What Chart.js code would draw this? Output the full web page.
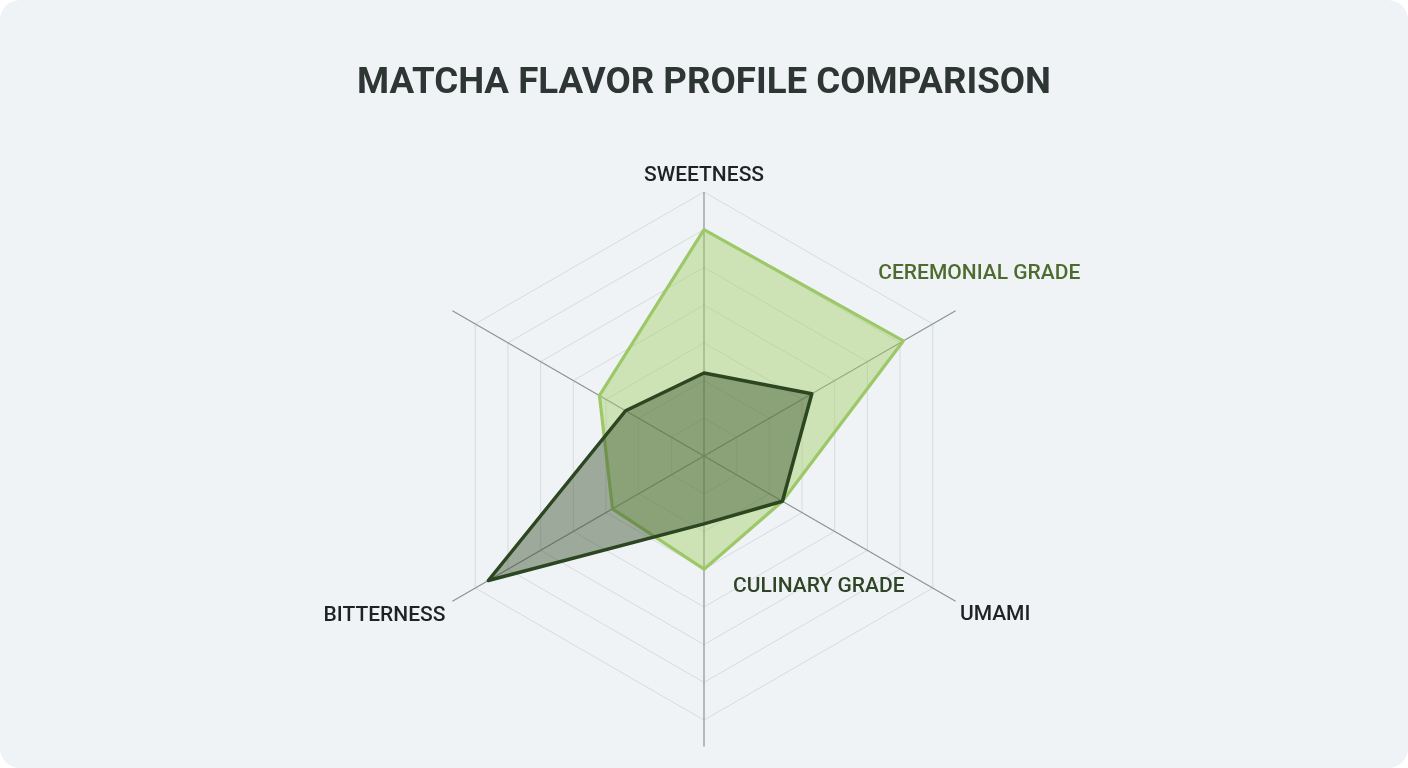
<!DOCTYPE html>
<html>
<head>
<meta charset="utf-8">
<title>Matcha Flavor Profile Comparison</title>
<script src="https://cdn.jsdelivr.net/npm/chart.js@4.4.1/dist/chart.umd.min.js"></script>
<style>
    html, body { margin: 0; padding: 0; background: #ffffff; }
    .card {
        width: 1408px;
        height: 768px;
        background: #eff3f5;
        border-radius: 20px;
        overflow: hidden;
    }
    canvas { display: block; }
</style>
</head>
<body>
<div class="card">
    <canvas id="flavorChart" width="1408" height="768"></canvas>
</div>
<script>
// ── Data ──────────────────────────────────────────────────
const axes = ['SWEETNESS', '', 'UMAMI', '', 'BITTERNESS', ''];
const ceremonialGrade = [6.0, 6.1, 2.4, 3.0, 2.8, 3.2];
const culinaryGrade = [2.2, 3.3, 2.4, 1.8, 6.6, 2.4];
const ringSteps = 7;      // grid rings 1..7
const scaleMax = 7.7;     // spokes run a little past the last ring

// per-label padding so the labels sit where the original has them
const labelPadding = [-20.5, 0, 5, -20.5, 8, 0];

// ── Series tags drawn inside the plot ─────────────────────
const seriesTags = {
    id: 'seriesTags',
    afterDatasetsDraw(chart) {
        const r = chart.scales.r;
        const ctx = chart.ctx;
        const R = r.drawingArea;
        const tags = [
            { text: 'CEREMONIAL GRADE', color: '#4e6b2f', dx: 0.60, dy: -0.626 },
            { text: 'CULINARY GRADE', color: '#2f4527', dx: 0.10, dy: 0.45 }
        ];
        ctx.save();
        ctx.font = '500 21px Roboto';
        ctx.textAlign = 'left';
        ctx.textBaseline = 'middle';
        tags.forEach(t => {
            ctx.fillStyle = t.color;
            ctx.fillText(t.text, r.xCenter + t.dx * R, r.yCenter + t.dy * R);
        });
        ctx.restore();
    }
};

new Chart(document.getElementById('flavorChart'), {
    type: 'radar',
    data: {
        labels: axes,
        datasets: [
            {
                label: 'Culinary Grade',
                data: culinaryGrade,
                order: 1,
                backgroundColor: 'rgba(58,80,44,0.45)',
                borderColor: '#2b4620',
                borderWidth: 3.5,
                borderJoinStyle: 'round',
                pointRadius: 0,
                fill: true
            },
            {
                label: 'Ceremonial Grade',
                data: ceremonialGrade,
                order: 2,
                backgroundColor: 'rgba(160,205,92,0.42)',
                borderColor: '#9cc868',
                borderWidth: 3.2,
                borderJoinStyle: 'round',
                pointRadius: 0,
                fill: true
            }
        ]
    },
    options: {
        responsive: false,
        animation: false,
        layout: { padding: { top: 0, bottom: 21, left: 0, right: 0 } },
        plugins: {
            legend: { display: false },
            tooltip: { enabled: false },
            title: {
                display: true,
                text: 'MATCHA FLAVOR PROFILE COMPARISON',
                color: '#2e3634',
                font: { family: 'Roboto', size: 36.7, weight: 'bold', lineHeight: 1.2 },
                padding: { top: 62, bottom: 58.96 }
            }
        },
        scales: {
            r: {
                min: 0,
                max: scaleMax,
                bounds: 'data',
                ticks: { display: false, stepSize: 1, includeBounds: false },
                grid: { color: '#d6dbde', lineWidth: 1 },
                angleLines: {
                    color: '#8d9295',
                    lineWidth: 1.2,
                    // top spoke stops at the last ring, the others run on
                    borderDash: (c) => {
                        if (c.index === 0 && c.scale) {
                            return [c.scale.getDistanceFromCenterForValue(ringSteps), 2000];
                        }
                        return [];
                    }
                },
                pointLabels: {
                    color: '#1e2225',
                    font: { family: 'Roboto', size: 21, weight: '500', lineHeight: 1 },
                    padding: (c) => labelPadding[c.index]
                }
            }
        }
    },
    plugins: [seriesTags]
});
</script>
</body>
</html>
